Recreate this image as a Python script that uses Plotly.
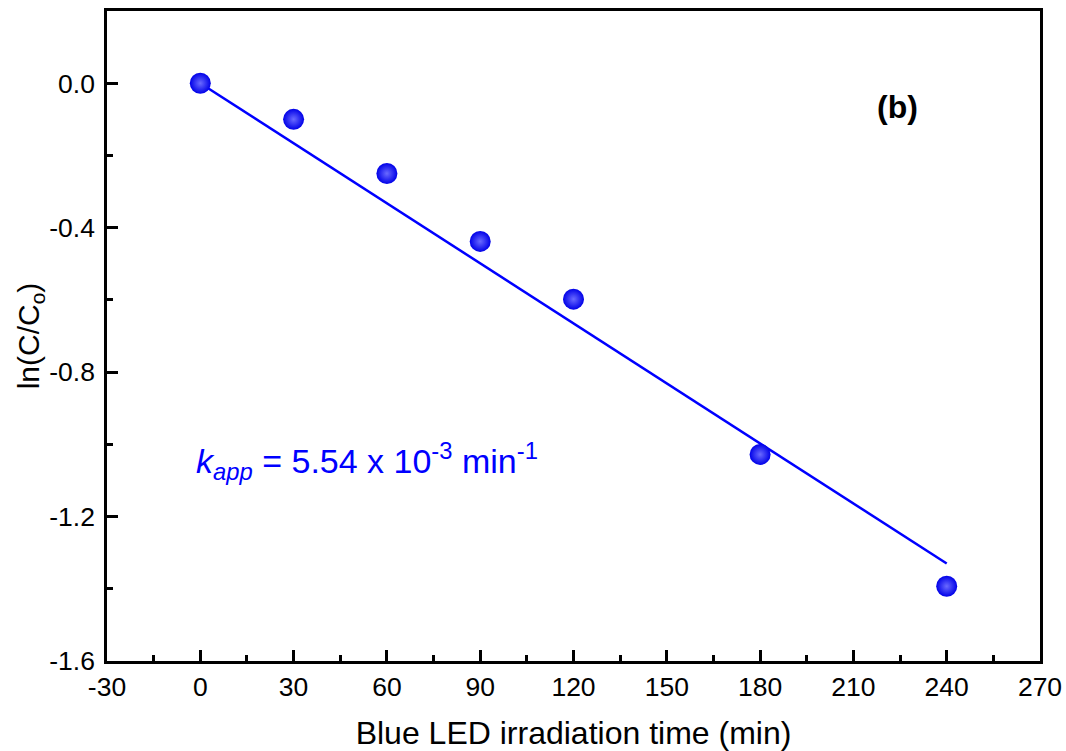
import plotly.graph_objects as go

time_min = [0, 30, 60, 90, 120, 180, 240]
ln_c_c0 = [0.0, -0.10, -0.25, -0.438, -0.598, -1.028, -1.393]
fit_x = [0, 240]
fit_y = [0.0, -1.33]

x_ticks = [-30, 0, 30, 60, 90, 120, 150, 180, 210, 240, 270]
x_ticklabels = ["-30", "0", "30", "60", "90", "120", "150", "180", "210", "240", "270"]
y_ticks = [0.0, -0.4, -0.8, -1.2, -1.6]
y_ticklabels = ["0.0", "-0.4", "-0.8", "-1.2", "-1.6"]

FONT = "Liberation Sans, Arial, sans-serif"

fig = go.Figure()
fig.add_trace(go.Scatter(x=fit_x, y=fit_y, mode="lines",
                         line=dict(color="#0000ff", width=2.5), showlegend=False))
fig.add_trace(go.Scatter(x=time_min, y=ln_c_c0, mode="markers",
                         marker=dict(size=21, color="#0000e8",
                                     gradient=dict(type="radial", color="#6a6aff"),
                                     line=dict(width=0)),
                         showlegend=False))

axis_common = dict(showline=True, linecolor="black", linewidth=2.5, mirror=True,
                   ticks="inside", ticklen=11, tickwidth=2.5, tickcolor="black",
                   showgrid=False, zeroline=False, automargin=False,
                   tickfont=dict(family=FONT, size=26.5, color="black"))

fig.update_xaxes(range=[-30, 270], tickvals=x_ticks, ticktext=x_ticklabels,
                 minor=dict(ticks="inside", ticklen=6, tickwidth=2.5, dtick=15, tick0=-30, tickcolor="black"),
                 title=dict(text="Blue LED irradiation time (min)", font=dict(family=FONT, size=32, color="black"), standoff=26),
                 **axis_common)
fig.update_yaxes(range=[-1.6, 0.2], tickvals=y_ticks, ticktext=y_ticklabels,
                 ticklabelstandoff=4,
                 minor=dict(ticks="inside", ticklen=6, tickwidth=2.5, dtick=0.2, tick0=-1.6, tickcolor="black"),
                 title=dict(text="ln(C/C<sub>o</sub>)", font=dict(family=FONT, size=30, color="black"), standoff=0),
                 **axis_common)

fig.add_annotation(x=-2, y=-1.045, xref="x", yref="y", xanchor="left", yanchor="middle",
                   text="<i>k</i><sub><i>app</i></sub> = 5.54 x 10<sup>-3</sup> min<sup>-1</sup>",
                   showarrow=False, font=dict(family=FONT, size=34, color="#0000ff"))
fig.add_annotation(x=224.3, y=-0.065, xref="x", yref="y", xanchor="center", yanchor="middle",
                   text="<b>(b)</b>", showarrow=False,
                   font=dict(family=FONT, size=32, color="black"))

fig.update_layout(width=1066, height=751, plot_bgcolor="white", paper_bgcolor="white",
                  margin=dict(l=107, r=26, t=11, b=90))
fig.write_html("out.html")
